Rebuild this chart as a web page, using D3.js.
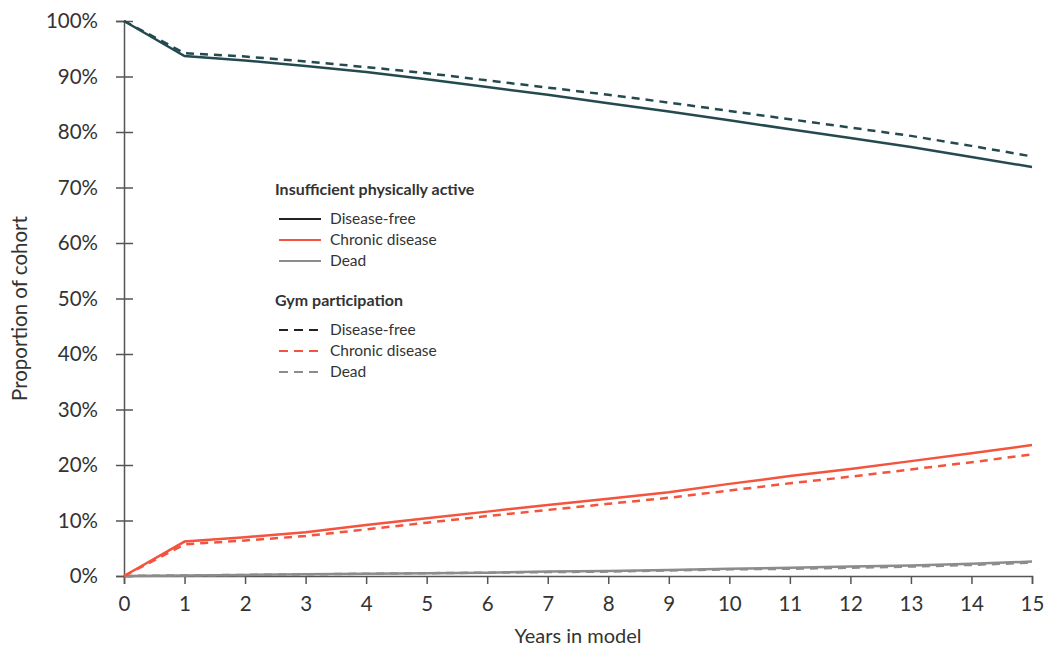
<!DOCTYPE html>
<html>
<head>
<meta charset="utf-8">
<script src="https://cdn.jsdelivr.net/npm/d3@7"></script>
<style>
  body { margin: 0; background: #fff; }
  svg text { font-family: Lato, "Open Sans", sans-serif; fill: #333; }
</style>
</head>
<body>
<div id="chart"></div>
<script>
// values in percent
const years = d3.range(0, 16);
const inactiveFree    = [100, 93.7, 92.9, 91.9, 90.8, 89.5, 88.1, 86.7, 85.2, 83.7, 82.1, 80.5, 78.9, 77.3, 75.5, 73.7];
const inactiveChronic = [0, 6.2, 7.0, 7.9, 9.2, 10.4, 11.6, 12.8, 13.9, 15.1, 16.6, 18.0, 19.3, 20.7, 22.1, 23.6];
const inactiveDead    = [0, 0.1, 0.2, 0.3, 0.4, 0.5, 0.6, 0.8, 0.9, 1.1, 1.3, 1.5, 1.7, 1.9, 2.2, 2.6];
const gymFree         = [100, 94.2, 93.6, 92.7, 91.7, 90.6, 89.3, 88.0, 86.7, 85.3, 83.8, 82.3, 80.8, 79.3, 77.5, 75.6];
const gymChronic      = [0, 5.7, 6.4, 7.2, 8.4, 9.6, 10.8, 11.9, 13.0, 14.1, 15.4, 16.7, 17.9, 19.2, 20.5, 21.9];
const gymDead         = [0, 0.1, 0.2, 0.3, 0.4, 0.5, 0.6, 0.7, 0.8, 1.0, 1.2, 1.3, 1.5, 1.7, 2.0, 2.4];
const yTicks = d3.range(0, 101, 10);
const legendGroups = ["Insufficient physically active", "Gym participation"];
const stateNames = ["Disease-free", "Chronic disease", "Dead"];

const colors = { free: "#244a50", chronic: "#f4533d", dead: "#8c8c8c" };
const legendColors = ["#222", "#f4533d", "#8c8c8c"];

const width = 1050, height = 661;
const margin = {top: 21, right: 18, bottom: 85, left: 124};
const w = width - margin.left - margin.right;
const h = height - margin.top - margin.bottom;

const svg = d3.select('#chart').append('svg')
    .attr('width', width)
    .attr('height', height);
const g = svg.append('g')
    .attr('transform', `translate(${margin.left},${margin.top})`);

const x = d3.scaleLinear().domain([0, 15]).range([0, w]);
const y = d3.scaleLinear().domain([0, 100]).range([h, 0]);

// axes
const axisColor = "#555";
const yAxis = g.append('g').call(d3.axisLeft(y).tickValues(yTicks).tickSize(8).tickPadding(18).tickFormat(d => d + '%'));
yAxis.select('.domain').attr('stroke', axisColor).attr('stroke-width', 1.5);
yAxis.selectAll('.tick line').attr('stroke', axisColor).attr('stroke-width', 1.5).attr('x2', 9).attr('x1', -8);
yAxis.selectAll('text').style('font-size', '20.5px').attr('fill', '#2b2b2b').attr('x', -26);

const xAxis = g.append('g').attr('transform', `translate(0,${h})`)
    .call(d3.axisBottom(x).tickValues(years).tickSize(8).tickPadding(12).tickSizeOuter(8));
xAxis.select('.domain').attr('stroke', axisColor).attr('stroke-width', 1.5);
xAxis.selectAll('.tick line').attr('stroke', axisColor).attr('stroke-width', 1.5);
xAxis.selectAll('text').style('font-size', '20.5px').attr('fill', '#2b2b2b');

g.append('text')
    .attr('x', w / 2).attr('y', h + 60)
    .attr('dy', '0.35em')
    .attr('text-anchor', 'middle')
    .style('font-size', '20px')
    .text('Years in model');

g.append('text')
    .attr('transform', `translate(${-97},${h / 2 + 10}) rotate(-90)`)
    .attr('text-anchor', 'middle')
    .style('font-size', '20.5px')
    .text('Proportion of cohort');

// lines
const line = d3.line().x((d, i) => x(years[i])).y(d => y(d));
const series = [
    {values: inactiveDead, color: colors.dead, dash: null},
    {values: gymDead, color: colors.dead, dash: "8,6"},
    {values: gymChronic, color: colors.chronic, dash: "8,6"},
    {values: inactiveChronic, color: colors.chronic, dash: null},
    {values: gymFree, color: colors.free, dash: "8,6"},
    {values: inactiveFree, color: colors.free, dash: null}
];
series.forEach(s => {
    g.append('path')
        .attr('d', line(s.values))
        .attr('fill', 'none')
        .attr('stroke', s.color)
        .attr('stroke-width', 2.5)
        .attr('stroke-dasharray', s.dash);
});

// legend
const legend = svg.append('g').attr('transform', 'translate(275,0)');
const legendTops = [189, 300];
legendGroups.forEach((title, gi) => {
    const top = legendTops[gi];
    legend.append('text')
        .attr('x', 0).attr('y', top)
        .attr('dy', '0.35em')
        .style('font-size', '16px')
        .style('font-weight', 'bold')
        .attr('fill', '#111')
        .text(title);
    stateNames.forEach((name, i) => {
        const ly = top + 30 + i * 21;
        legend.append('line')
            .attr('x1', 4).attr('x2', 46)
            .attr('y1', ly).attr('y2', ly)
            .attr('stroke', legendColors[i])
            .attr('stroke-width', 2)
            .attr('stroke-dasharray', gi === 1 ? "9,6" : null);
        legend.append('text')
            .attr('x', 55).attr('y', ly)
            .attr('dy', '0.35em')
            .style('font-size', '15.5px')
            .attr('fill', '#333')
            .text(name);
    });
});
</script>
</body>
</html>
